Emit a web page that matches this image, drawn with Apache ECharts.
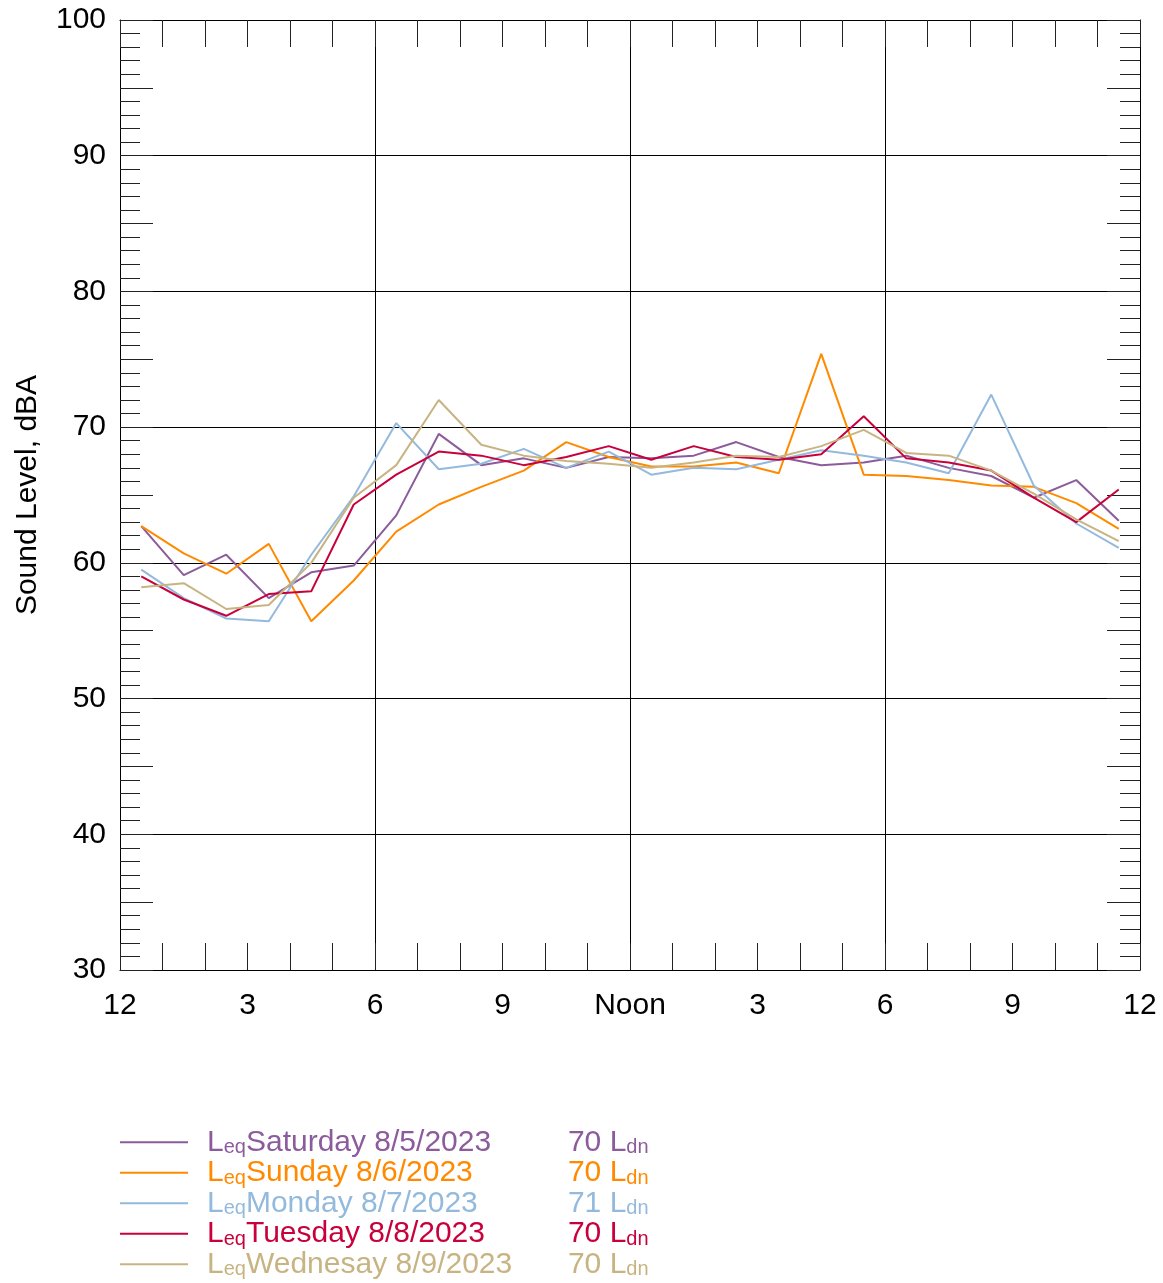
<!DOCTYPE html>
<html>
<head>
<meta charset="utf-8">
<script src="https://cdn.jsdelivr.net/npm/echarts@6/dist/echarts.min.js"></script>
<style>
html,body{margin:0;padding:0;background:#fff;}
#chart{width:1163px;height:1283px;}
</style>
</head>
<body>
<div id="chart"></div>
<script>
// Hour midpoints (hourly Leq values plotted at half-hour)
const hours = [0.5,1.5,2.5,3.5,4.5,5.5,6.5,7.5,8.5,9.5,10.5,11.5,12.5,13.5,14.5,15.5,16.5,17.5,18.5,19.5,20.5,21.5,22.5,23.5];
const xTickLabels = {0:'12',3:'3',6:'6',9:'9',12:'Noon',15:'3',18:'6',21:'9',24:'12'};

const seriesNames = ['Saturday 8/5/2023','Sunday 8/6/2023','Monday 8/7/2023','Tuesday 8/8/2023','Wednesay 8/9/2023'];
const ldnValues = [70, 70, 71, 70, 70];
const colors = ['#8c5b9c','#ff8a00','#93badd','#c8003c','#c8b482'];

const saturday  = [62.7,59.1,60.6,57.4,59.3,59.8,63.5,69.5,67.2,67.7,67.0,67.8,67.7,67.9,68.9,67.8,67.2,67.4,67.9,67.0,66.4,64.8,66.1,63.1];
const sunday    = [62.7,60.7,59.2,61.4,55.7,58.7,62.3,64.3,65.6,66.8,68.9,67.8,67.1,67.1,67.4,66.6,75.4,66.5,66.4,66.1,65.7,65.6,64.4,62.5];
const monday    = [59.5,57.4,55.9,55.7,60.6,64.9,70.3,66.9,67.3,68.4,67.0,68.2,66.5,67.0,66.9,67.6,68.3,67.9,67.4,66.6,72.4,65.7,62.9,61.1];
const tuesday   = [59.0,57.3,56.1,57.7,57.9,64.3,66.5,68.2,67.9,67.2,67.8,68.6,67.6,68.6,67.8,67.6,68.0,70.8,67.7,67.4,66.8,64.8,63.0,65.4];
const wednesday = [58.2,58.5,56.6,56.9,60.0,64.8,67.2,72.0,68.7,67.9,67.5,67.3,67.0,67.4,67.9,67.8,68.6,69.8,68.1,67.9,66.8,65.1,63.2,61.6];
const allValues = [saturday, sunday, monday, tuesday, wednesday];

const FONT = 'Liberation Sans, Arial, sans-serif';
const chart = echarts.init(document.getElementById('chart'));

const tickColor = '#222';
const series = seriesNames.map((name, i) => ({
  name: name,
  type: 'line',
  xAxisIndex: 0,
  yAxisIndex: 0,
  symbol: 'none',
  color: colors[i],
  lineStyle: {width: 2, color: colors[i]},
  data: hours.map((h, k) => [h, allValues[i][k]]),
  z: 5
}));

function tickAxis(position, interval, length, showLine) {
  return { type: 'value', position: position, min: 30, max: 100, interval: interval,
    axisLine: {show: !!showLine, lineStyle: {color: '#000', width: 1}},
    axisTick: {show: true, inside: true, length: length, lineStyle: {color: tickColor}},
    splitLine: {show: false}, axisLabel: {show: false} };
}

const option = {
  animation: false,
  backgroundColor: '#fff',
  grid: {left: 120, top: 20, width: 1020, height: 950, show: false},
  xAxis: [
    { type: 'value', position: 'bottom', min: 0, max: 24, interval: 3,
      axisLine: {show: true, lineStyle: {color: '#000', width: 1}},
      axisTick: {show: true, inside: true, length: 27, lineStyle: {color: tickColor}},
      minorTick: {show: true, splitNumber: 3, length: 27, lineStyle: {color: tickColor}},
      splitLine: {show: false},
      axisLabel: {show: true, margin: 21, fontSize: 30, color: '#000', fontFamily: FONT,
        formatter: v => xTickLabels[v] !== undefined ? xTickLabels[v] : ''}
    },
    { type: 'value', position: 'top', min: 0, max: 24, interval: 3,
      axisLine: {show: true, lineStyle: {color: '#000', width: 1}},
      axisTick: {show: true, inside: true, length: 27, lineStyle: {color: tickColor}},
      minorTick: {show: true, splitNumber: 3, length: 27, lineStyle: {color: tickColor}},
      splitLine: {show: false},
      axisLabel: {show: false}
    },
    { type: 'value', position: 'bottom', min: 0, max: 24, interval: 6,
      axisLine: {show: false}, axisTick: {show: false}, axisLabel: {show: false},
      splitLine: {show: true, lineStyle: {color: '#000', width: 1}}
    }
  ],
  yAxis: [
    { type: 'value', position: 'left', min: 30, max: 100, interval: 10,
      name: 'Sound Level, dBA', nameLocation: 'middle', nameGap: 77,
      nameTextStyle: {fontSize: 30, color: '#000', fontFamily: FONT},
      axisLine: {show: true, lineStyle: {color: '#000', width: 1}},
      axisTick: {show: false},
      splitLine: {show: true, lineStyle: {color: '#000', width: 1}},
      axisLabel: {show: true, margin: 14, fontSize: 30, color: '#000', fontFamily: FONT}
    },
    tickAxis('left', 1, 20, false),
    tickAxis('left', 5, 33, false),
    tickAxis('right', 1, 20, true),
    tickAxis('right', 5, 33, false)
  ],
  legend: {
    orient: 'vertical',
    left: 120,
    top: 1127,
    padding: 0,
    itemGap: 0,
    itemWidth: 68,
    itemHeight: 2,
    icon: 'rect',
    selectedMode: false,
    data: seriesNames.map((n, i) => ({name: n, textStyle: {color: colors[i]}})),
    formatter: name => {
      const i = seriesNames.indexOf(name);
      return '{a|L}{s|eq}{n|' + name + '}{v|' + ldnValues[i] + ' }{b|L}{s|dn}';
    },
    textStyle: {
      fontFamily: FONT,
      fontSize: 30,
      lineHeight: 30.5,
      rich: {
        a: {fontSize: 30, fontFamily: FONT, lineHeight: 30.5, padding: [0, 0, 0, 14]},
        s: {fontSize: 20, fontFamily: FONT, lineHeight: 22, verticalAlign: 'bottom'},
        n: {fontSize: 30, fontFamily: FONT, lineHeight: 30.5, width: 322},
        v: {fontSize: 30, fontFamily: FONT, lineHeight: 30.5},
        b: {fontSize: 30, fontFamily: FONT, lineHeight: 30.5}
      }
    }
  },
  series: series
};
chart.setOption(option);
</script>
</body>
</html>
